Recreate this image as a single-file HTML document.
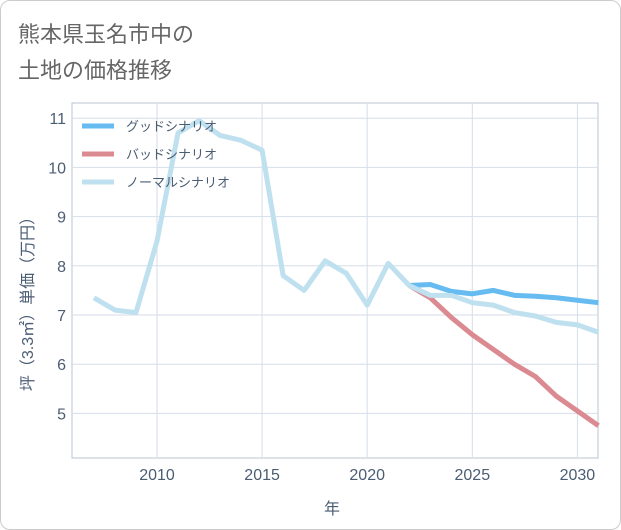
<!DOCTYPE html>
<html><head><meta charset="utf-8"><style>
body{margin:0;background:#fff;font-family:"Liberation Sans","Noto Sans CJK JP",sans-serif;}
#card{position:absolute;left:0;top:0;width:619px;height:528px;border:1px solid #ccc;border-radius:10px;background:#fff;}
</style></head><body>
<div id="card"></div>
<svg id="chart" width="621" height="530" style="position:absolute;left:0;top:0">
<text x="18" y="42" font-size="22" fill="#666">熊本県玉名市中の</text>
<text x="18" y="78" font-size="22" fill="#666">土地の価格推移</text>
<g id="grid"></g><g id="series"></g><g id="legend"></g>
<text x="332" y="514" font-size="16" fill="#4b5d73" text-anchor="middle">年</text>
<text transform="translate(33,300) rotate(-90)" font-size="16" fill="#4b5d73" text-anchor="middle">坪（3.3㎡）単価（万円）</text>
</svg>
<script>
const xTicks=[2010,2015,2020,2025,2030];
const yTicks=[5,6,7,8,9,10,11];
const normalYears=[2007,2008,2009,2010,2011,2012,2013,2014,2015,2016,2017,2018,2019,2020,2021,2022,2023,2024,2025,2026,2027,2028,2029,2030,2031];
const normalVals=[7.35,7.1,7.05,8.5,10.7,10.95,10.65,10.55,10.35,7.8,7.5,8.1,7.85,7.2,8.05,7.6,7.4,7.4,7.25,7.2,7.05,6.98,6.85,6.8,6.65];
const futureYears=[2022,2023,2024,2025,2026,2027,2028,2029,2030,2031];
const goodVals=[7.6,7.62,7.48,7.43,7.5,7.4,7.38,7.35,7.3,7.25];
const badVals=[7.6,7.35,6.95,6.6,6.3,6.0,5.75,5.35,5.05,4.75];
const L=72,R=598,T=103,B=458;
const x=y=>157+(y-2010)*21.02;
const yv=v=>315-(v-7)*49.2;
const NS='http://www.w3.org/2000/svg';
function mk(tag,attrs,parent){const e=document.createElementNS(NS,tag);for(const k in attrs)e.setAttribute(k,attrs[k]);parent.appendChild(e);return e;}
const grid=document.getElementById('grid');
mk('rect',{x:L,y:T,width:R-L,height:B-T,fill:'none',stroke:'#b8c4d0'},grid);
xTicks.forEach(t=>{const l=mk('line',{x1:x(t),x2:x(t),y1:T,y2:B,stroke:'#d5dee8'},grid);


const tx=mk('text',{x:x(t),y:B+22,'font-size':16,fill:'#4b5d73','text-anchor':'middle'},grid);tx.textContent=t;

});
yTicks.forEach(t=>{const l=mk('line',{x1:L,x2:R,y1:yv(t),y2:yv(t),stroke:'#d5dee8'},grid);


const tx=mk('text',{x:L-6,y:yv(t)+6,'font-size':16,fill:'#4b5d73','text-anchor':'end'},grid);tx.textContent=t;

});
const S=document.getElementById('series');
function line(xs,vs,color,name){const p=mk('polyline',{points:xs.map((yr,i)=>x(yr)+','+yv(vs[i])).join(' '),fill:'none',stroke:color,'stroke-width':5,'stroke-linejoin':'round'},S);

}
line(futureYears,badVals,'#dc8a92','bad-scenario-line');
line(futureYears,goodVals,'#66bbf0','good-scenario-line');
line(normalYears,normalVals,'#bfe0ee','normal-scenario-line');
const LG=document.getElementById('legend');
[['グッドシナリオ','#66bbf0','legend-good'],['バッドシナリオ','#dc8a92','legend-bad'],['ノーマルシナリオ','#bfe0ee','legend-normal']].forEach((d,i)=>{
const g=mk('g',{},LG);


mk('line',{x1:82,x2:114,y1:126+i*28,y2:126+i*28,stroke:d[1],'stroke-width':5},g);
const t=mk('text',{x:126,y:131+i*28,'font-size':13,fill:'#4b5d73'},g);t.textContent=d[0];});
</script>
</body></html>
